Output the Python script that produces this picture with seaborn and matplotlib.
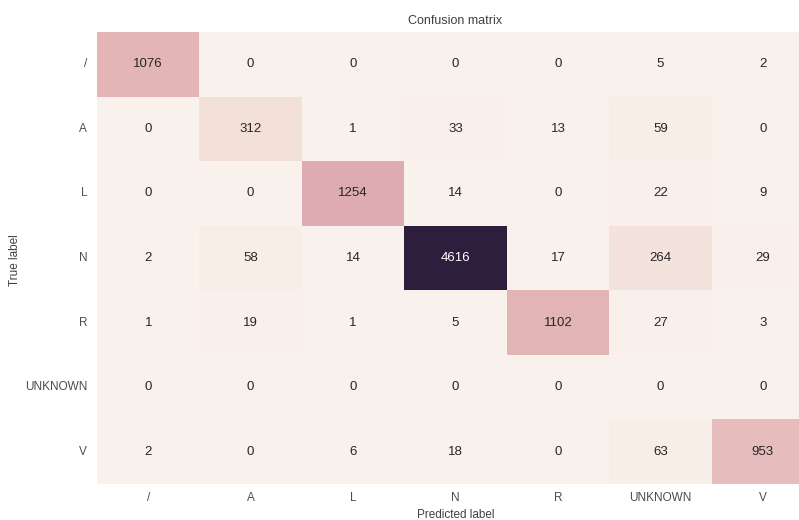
import numpy as np
import pandas as pd
import seaborn as sns
from matplotlib import pyplot as plt

labels = ['/', 'A', 'L', 'N', 'R', 'UNKNOWN', 'V']

row_slash = [1076, 0, 0, 0, 0, 5, 2]
row_a = [0, 312, 1, 33, 13, 59, 0]
row_l = [0, 0, 1254, 14, 0, 22, 9]
row_n = [2, 58, 14, 4616, 17, 264, 29]
row_r = [1, 19, 1, 5, 1102, 27, 3]
row_unknown = [0, 0, 0, 0, 0, 0, 0]
row_v = [2, 0, 6, 18, 0, 63, 953]

cm = pd.DataFrame([row_slash, row_a, row_l, row_n, row_r, row_unknown, row_v],
                  index=labels, columns=labels)

sns.set_style('white')
plt.rcParams['font.family'] = ['Liberation Sans', 'DejaVu Sans']

fig = plt.figure(figsize=(7.99, 5.2), dpi=100)
ax = fig.add_axes([97/799, 1 - 484/520, 717/799, 452/520])

cmap = sns.cubehelix_palette(light=.95, as_cmap=True)
sns.heatmap(cm, annot=True, fmt='d', cmap=cmap, cbar=False, ax=ax,
            annot_kws={'size': 9.5})

ax.set_title('Confusion matrix', fontsize=9, color='.25')
ax.set_ylabel('True label', fontsize=8.5, color='.25')
ax.set_xlabel('Predicted label', fontsize=8.5, color='.25', labelpad=3)
ax.tick_params(axis='both', length=0, labelsize=8.5, labelcolor='.3')
ax.tick_params(axis='y', pad=7)
ax.tick_params(axis='x', pad=6)
ax.yaxis.set_label_coords(-76/717, 0.496)
plt.setp(ax.get_yticklabels(), rotation=0)
plt.setp(ax.get_xticklabels(), rotation=0)

fig.savefig('out.png', dpi=100)
